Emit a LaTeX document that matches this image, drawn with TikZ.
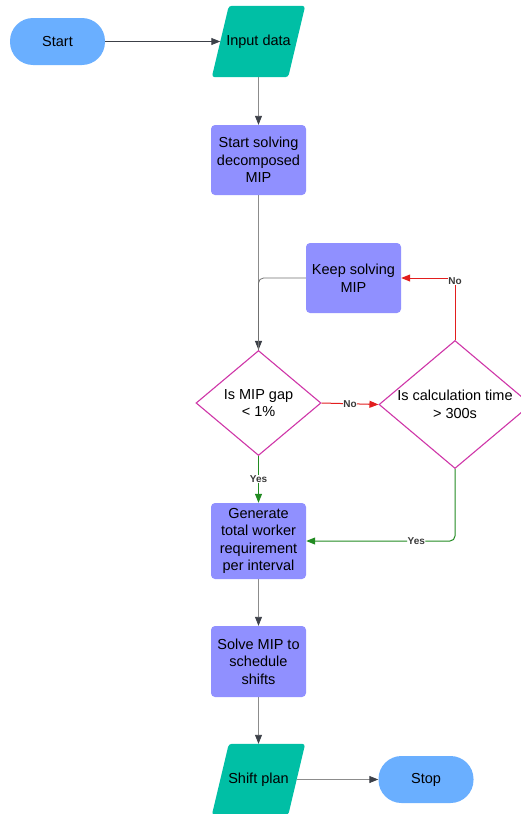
\documentclass[tikz,border=0pt]{standalone}
\usepackage{fontspec}
\setmainfont{Liberation Sans}
\usetikzlibrary{shapes.geometric,arrows.meta,backgrounds}
\definecolor{termblue}{HTML}{6AAFFF}
\definecolor{iogreen}{HTML}{00BFA5}
\definecolor{procpurple}{HTML}{9090FF}
\definecolor{decmag}{HTML}{CF36A8}
\definecolor{arrred}{HTML}{E21E1E}
\definecolor{arrgreen}{HTML}{228B22}
\definecolor{linegray}{HTML}{8C8C8C}
\definecolor{tipgray}{HTML}{3C4048}
\definecolor{lblgray}{HTML}{3A3A3A}
\begin{document}
\begin{tikzpicture}[x=1pt,y=-1pt,
  font=\fontsize{14.5}{17.5}\selectfont,
  term/.style={rounded corners=23pt, fill=termblue, minimum width=95, minimum height=47, inner sep=0},
  proc/.style={rounded corners=4pt, fill=procpurple, minimum width=95, align=center, inner sep=2},
  iobox/.style={minimum width=76, minimum height=71, inner sep=0},
  dec/.style={diamond, draw=decmag, line width=1.1pt, fill=white, align=center, inner sep=0},
  gline/.style={draw=linegray, line width=0.9pt, -{Triangle[length=9pt,width=7pt,color=tipgray]}},
  rline/.style={draw=arrred, line width=1pt, -{Triangle[length=9pt,width=7pt]}},
  gnline/.style={draw=arrgreen, line width=1pt, -{Triangle[length=9pt,width=7pt]}},
  lbl/.style={font=\bfseries\fontsize{10}{11}\selectfont, text=lblgray, fill=white, inner sep=0.5pt}
]
\useasboundingbox (0,0) rectangle (520,814);

\node[term] (start) at (57.5,41.5) {Start};
\node[iobox] (in) at (258.5,41.5) {Input data};
\node[proc, minimum height=70] (solve1) at (258.5,160) {Start solving\\decomposed\\MIP};
\node[proc, minimum height=70] (keep) at (353.5,278) {Keep solving\\MIP};
\node[dec, minimum width=125, minimum height=105] (d1) at (258.5,403) {Is MIP gap\\< 1\%};
\node[dec, shape aspect=1.19, inner sep=-1.5pt, minimum width=152, minimum height=128] (d2) at (455,404.5) {Is calculation time\\> 300s};
\node[proc, minimum height=76] (gen) at (258.5,541) {Generate\\total worker\\requirement\\per interval};
\node[proc, minimum height=71] (smip) at (258.5,661.5) {Solve MIP to\\schedule\\shifts};
\node[iobox] (shift) at (258.5,779.5) {Shift plan};
\node[term] (stop) at (426,779.5) {Stop};

\begin{scope}[on background layer]
  \foreach \n in {in,shift}
    \fill[iogreen, rounded corners=3pt] ([xshift=-8.5pt]\n.south west) -- ([xshift=-8.5pt]\n.south east) -- ([xshift=8.5pt]\n.north east) -- ([xshift=8.5pt]\n.north west) -- cycle;
\end{scope}

\draw[gline, draw=tipgray] (start) -- (in);
\draw[gline] (in) -- (solve1);
\draw[gline] (solve1) -- (d1);
\draw[draw=linegray!80!black, line width=0.8pt, rounded corners=5pt] (keep.west) -| (d1.north);
\draw[rline] (d1.east) -- node[lbl]{No} (d2.west);
\draw[rline] (d2.north) |- node[lbl, pos=0.476]{No} (keep.east);
\draw[gnline] (d1.south) -- node[lbl]{Yes} (gen.north);
\draw[gnline, rounded corners=5pt] (d2.south) |- node[lbl, pos=0.63]{Yes} (gen.east);
\draw[gline] (gen) -- (smip);
\draw[gline] (smip) -- (shift);
\draw[gline] (shift) -- (stop);
\end{tikzpicture}
\end{document}
